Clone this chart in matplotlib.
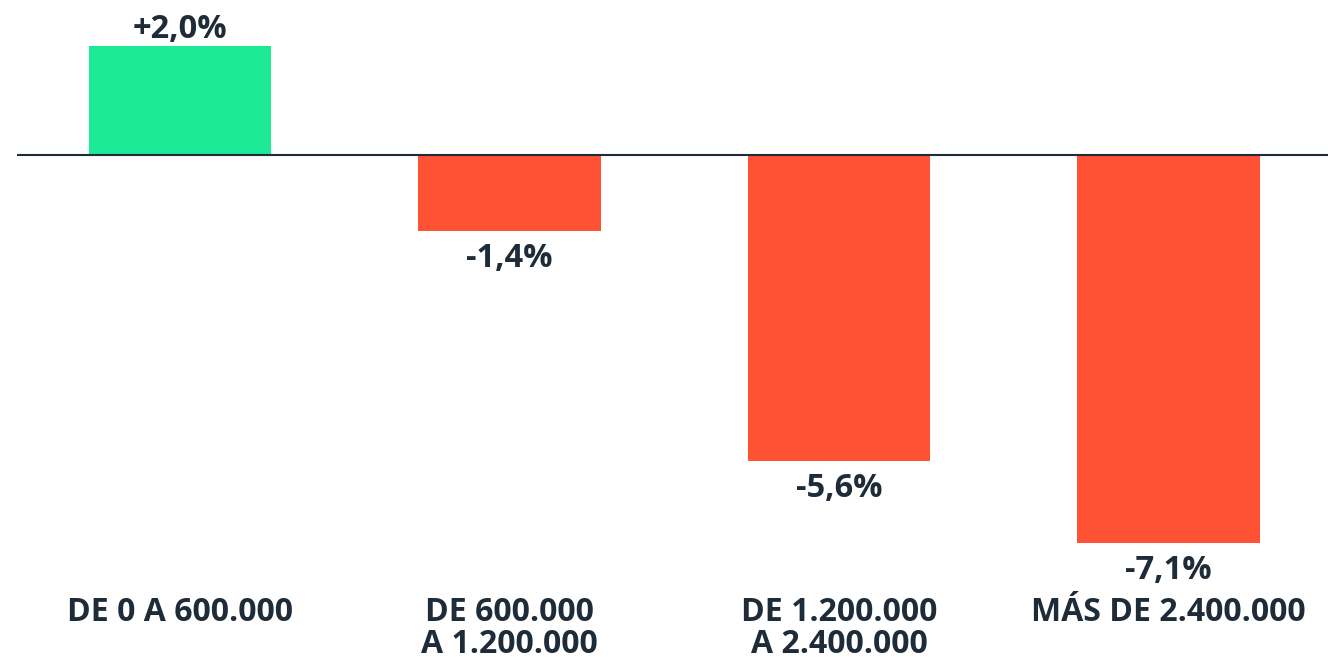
import numpy as np
import matplotlib.pyplot as plt

categories = ['DE 0 A 600.000', 'DE 600.000\nA 1.200.000', 'DE 1.200.000\nA 2.400.000', 'MÁS DE 2.400.000']
values = [2.0, -1.4, -5.6, -7.1]
value_labels = ['+2,0%', '-1,4%', '-5,6%', '-7,1%']

GREEN = '#1CEA94'
RED = '#FF5234'
DARK = '#1E2B38'

plt.rcParams['font.family'] = ['Open Sans', 'DejaVu Sans']

fig = plt.figure(figsize=(13.28, 6.57), dpi=100)
ax = fig.add_axes([17 / 1328, 0, 1 - 17 / 1328, 1])

x = np.arange(len(categories))
colors = [GREEN if v >= 0 else RED for v in values]
bars = ax.bar(x, values, width=0.553, color=colors, zorder=2)

ax.set_xlim(-0.495, 3.484)
ax.set_ylim(-9.194, 2.839)
ax.axhline(0, color=DARK, lw=1.5, zorder=3)
ax.axis('off')

# value labels above / below bars
for rect, v, lab in zip(bars, values, value_labels):
    cx = rect.get_x() + rect.get_width() / 2
    if v >= 0:
        ax.annotate(lab, (cx, v), xytext=(0, 5.8), textcoords='offset points',
                    ha='center', va='baseline', fontsize=23.5, fontweight='bold', color=DARK)
    else:
        ax.annotate(lab, (cx, v), xytext=(0, -7.9), textcoords='offset points',
                    ha='center', va='top', fontsize=23.5, fontweight='bold', color=DARK)

# category labels at the bottom, one text per line (baselines in pixels)
trans = ax.get_xaxis_transform()
line_base = [621, 653]
for xi, cat in zip(x, categories):
    for k, line in enumerate(cat.split('\n')):
        ax.text(xi, 1 - line_base[k] / 657, line, transform=trans, ha='center', va='baseline',
                fontsize=23, fontweight='bold', color=DARK)

fig.savefig('out.png', dpi=100)
